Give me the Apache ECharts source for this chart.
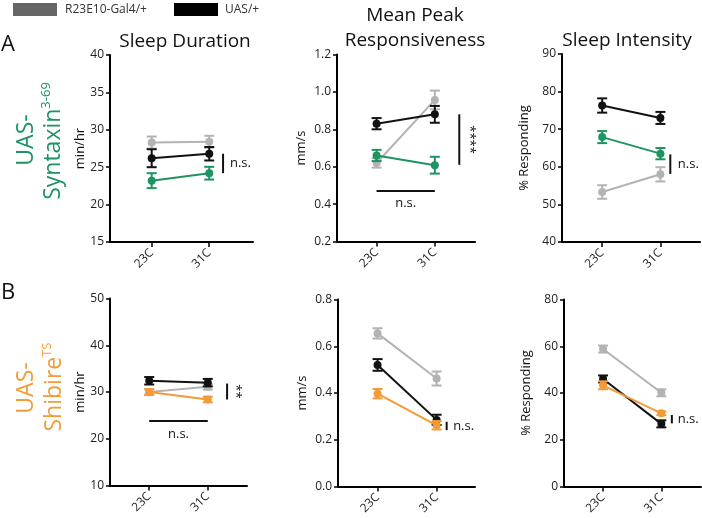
<!DOCTYPE html>
<html><head><meta charset="utf-8">
<script src="https://cdn.jsdelivr.net/npm/echarts@6/dist/echarts.min.js"></script>
<style>html,body{margin:0;padding:0;background:#fff}#c{width:702px;height:518px}</style>
</head><body><div id="c"></div>
<script>
// ---------- DATA ----------
const temps = ['23C', '31C'];
const legendNames = ['R23E10-Gal4/+', 'UAS/+'];
const panelTitles = ['Sleep Duration', 'Mean Peak\nResponsiveness', 'Sleep Intensity'];
const yNames = ['min/hr', 'mm/s', '% Responding', 'min/hr', 'mm/s', '% Responding'];

// Row A: UAS-Syntaxin3-69
const a1Gal4 = [28.3, 28.4], a1Gal4Err = [0.8, 0.8];
const a1UAS = [26.2, 26.8], a1UASErr = [1.2, 0.9];
const a1Exp = [23.2, 24.2], a1ExpErr = [1.0, 0.85];

const a2Gal4 = [0.62, 0.957], a2Gal4Err = [0.025, 0.05];
const a2UAS = [0.83, 0.88], a2UASErr = [0.03, 0.045];
const a2Exp = [0.66, 0.608], a2ExpErr = [0.03, 0.045];

const a3Gal4 = [53.3, 58.0], a3Gal4Err = [1.8, 1.9];
const a3UAS = [76.3, 73.0], a3UASErr = [1.9, 1.6];
const a3Exp = [67.9, 63.5], a3ExpErr = [1.6, 1.5];

// Row B: UAS-ShibireTS
const b1Gal4 = [30.0, 31.1], b1Gal4Err = [0.6, 0.6];
const b1UAS = [32.4, 32.0], b1UASErr = [0.8, 0.8];
const b1Exp = [30.0, 28.4], b1ExpErr = [0.6, 0.6];

const b2Gal4 = [0.655, 0.462], b2Gal4Err = [0.022, 0.03];
const b2UAS = [0.52, 0.285], b2UASErr = [0.025, 0.022];
const b2Exp = [0.397, 0.262], b2ExpErr = [0.02, 0.018];

const b3Gal4 = [58.8, 40.1], b3Gal4Err = [1.5, 1.5];
const b3UAS = [46.0, 26.8], b3UASErr = [1.5, 1.5];
const b3Exp = [43.3, 31.3], b3ExpErr = [1.7, 0.8];

// y axis ranges [min, max, interval]
const yRanges = [[15, 40, 5], [0.2, 1.2, 0.2], [40, 90, 10], [10, 50, 10], [0, 0.8, 0.2], [0, 80, 20]];

// significance annotations (data coordinates): [grid, x1, y1, x2, y2, text, tx, ty, textMode]
const annotations = [
  [0, 1.24, 26.8, 1.24, 24.2, 'n.s.', 1.36, 25.5, 'right'],
  [1, 1.42, 0.88, 1.42, 0.61, '****', 1.6, 0.745, 'rot'],
  [1, 0, 0.47, 1, 0.47, 'n.s.', 0.5, 0.405, 'center'],
  [2, 1.17, 63.3, 1.17, 58.1, 'n.s.', 1.3, 60.7, 'right'],
  [3, 1.33, 31.8, 1.33, 28.4, '**', 1.47, 30.1, 'rot'],
  [3, 0, 23.8, 1, 23.8, 'n.s.', 0.5, 21.0, 'center'],
  [4, 1.17, 0.277, 1.17, 0.241, 'n.s.', 1.28, 0.259, 'right'],
  [5, 1.18, 30.6, 1.18, 27.0, 'n.s.', 1.28, 28.8, 'right']
];

// ---------- STYLE / LAYOUT ----------
const GRAY = '#b3b3b3', BLACK = '#111111', GREEN = '#1d9461', ORANGE = '#f29b38';
const FONT = 'Open Sans';
const grids = [
  {left: 110, top: 55, width: 143, height: 187, xmin: -0.724, xmax: 1.76, gap: 17},
  {left: 337, top: 54.5, width: 138, height: 187, xmin: -0.68, xmax: 1.69, gap: 29},
  {left: 562, top: 54, width: 138, height: 188, xmin: -0.69, xmax: 1.68, gap: 31},
  {left: 110, top: 298.5, width: 137, height: 187, xmin: -0.67, xmax: 1.67, gap: 17},
  {left: 338, top: 299.5, width: 137, height: 187, xmin: -0.67, xmax: 1.65, gap: 29},
  {left: 564, top: 299.5, width: 137, height: 187, xmin: -0.67, xmax: 1.68, gap: 31}
];
const panelData = [
  [a1Gal4, a1Gal4Err, a1UAS, a1UASErr, a1Exp, a1ExpErr, GREEN],
  [a2Gal4, a2Gal4Err, a2UAS, a2UASErr, a2Exp, a2ExpErr, GREEN],
  [a3Gal4, a3Gal4Err, a3UAS, a3UASErr, a3Exp, a3ExpErr, GREEN],
  [b1Gal4, b1Gal4Err, b1UAS, b1UASErr, b1Exp, b1ExpErr, ORANGE],
  [b2Gal4, b2Gal4Err, b2UAS, b2UASErr, b2Exp, b2ExpErr, ORANGE],
  [b3Gal4, b3Gal4Err, b3UAS, b3UASErr, b3Exp, b3ExpErr, ORANGE]
];

function errRender(params, api) {
  const x = api.value(0), y = api.value(1), e = api.value(2);
  const t = api.coord([x, y + e]), b = api.coord([x, y - e]);
  const style = {stroke: api.visual('color'), lineWidth: 2};
  const hw = 5;
  return {type: 'group', children: [
    {type: 'line', shape: {x1: t[0], y1: t[1], x2: b[0], y2: b[1]}, style},
    {type: 'line', shape: {x1: t[0] - hw, y1: t[1], x2: t[0] + hw, y2: t[1]}, style},
    {type: 'line', shape: {x1: b[0] - hw, y1: b[1], x2: b[0] + hw, y2: b[1]}, style}
  ]};
}

const chart = echarts.init(document.getElementById('c'), null, {renderer: 'canvas'});
const option = {
  animation: false,
  backgroundColor: '#fff',
  grid: [], xAxis: [], yAxis: [], series: []
};
grids.forEach((g, i) => {
  option.grid.push({left: g.left, top: g.top, width: g.width, height: g.height, containLabel: false});
  option.xAxis.push({
    type: 'value', gridIndex: i, min: g.xmin, max: g.xmax,
    splitLine: {show: false},
    axisLine: {show: true, lineStyle: {color: '#000', width: 2}},
    axisTick: {show: true, customValues: [0, 1], length: 5, lineStyle: {color: '#000', width: 1.5}},
    axisLabel: {show: true, customValues: [0, 1], rotate: 45, margin: 9, fontFamily: FONT, fontSize: 12, color: '#222',
      formatter: v => temps[Math.round(v)] || ''}
  });
  const r = yRanges[i];
  const dec = r[2] < 1 ? 1 : 0;
  option.yAxis.push({
    type: 'value', gridIndex: i, min: r[0], max: r[1], interval: r[2],
    name: yNames[i], nameLocation: 'middle', nameRotate: 90, nameGap: g.gap,
    nameTextStyle: {fontFamily: FONT, fontSize: 13, color: '#111'},
    splitLine: {show: false},
    axisLine: {show: true, onZero: false, lineStyle: {color: '#000', width: 2}},
    axisTick: {show: true, length: 4, lineStyle: {color: '#000', width: 1.5}},
    axisLabel: {margin: 6, fontFamily: FONT, fontSize: 12, color: '#222', formatter: v => v.toFixed(dec)}
  });
  const d = panelData[i];
  const groups = [[d[0], d[1], GRAY, 2], [d[2], d[3], BLACK, 3], [d[4], d[5], d[6], 4]];
  groups.forEach(([vals, errs, col, z]) => {
    option.series.push({
      type: 'custom', xAxisIndex: i, yAxisIndex: i, z: z, renderItem: errRender,
      itemStyle: {color: col},
      data: vals.map((v, k) => [k, v, errs[k]])
    });
    option.series.push({
      type: 'line', xAxisIndex: i, yAxisIndex: i, z: z,
      data: vals.map((v, k) => [k, v]),
      symbol: 'circle', symbolSize: 8,
      lineStyle: {color: col, width: 2}, itemStyle: {color: col}
    });
  });
});
chart.setOption(option);

// ---------- static graphics + annotations ----------
const graphics = [];
// legend
graphics.push({type: 'rect', shape: {x: 13, y: 3, width: 44, height: 13}, style: {fill: '#666'}});
graphics.push({type: 'text', x: 65, y: 9.5, style: {text: legendNames[0], font: `12px "${FONT}"`, fill: '#333', textVerticalAlign: 'middle'}});
graphics.push({type: 'rect', shape: {x: 174, y: 3, width: 44, height: 13}, style: {fill: '#000'}});
graphics.push({type: 'text', x: 225, y: 9.5, style: {text: legendNames[1], font: `12px "${FONT}"`, fill: '#333', textVerticalAlign: 'middle'}});
// panel letters
graphics.push({type: 'text', x: 1, y: 45, style: {text: 'A', font: `22px "${FONT}"`, fill: '#111', textVerticalAlign: 'middle'}});
graphics.push({type: 'text', x: 1, y: 293, style: {text: 'B', font: `22px "${FONT}"`, fill: '#111', textVerticalAlign: 'middle'}});
// titles
graphics.push({type: 'text', x: 185, y: 42, style: {text: panelTitles[0], font: `19px "${FONT}"`, fill: '#111', textAlign: 'center', textVerticalAlign: 'middle'}});
graphics.push({type: 'text', x: 415, y: 28, style: {text: panelTitles[1], font: `19px "${FONT}"`, lineHeight: 25, fill: '#111', textAlign: 'center', textVerticalAlign: 'middle'}});
graphics.push({type: 'text', x: 627, y: 41, style: {text: panelTitles[2], font: `19px "${FONT}"`, fill: '#111', textAlign: 'center', textVerticalAlign: 'middle'}});
// row labels
function rowLabel(x1, y1, x2, y2, main, sup, col) {
  graphics.push({type: 'text', x: x1, y: y1, rotation: Math.PI / 2,
    style: {text: 'UAS-', font: `23px "${FONT}"`, fill: col, textAlign: 'center', textVerticalAlign: 'middle'}});
  graphics.push({type: 'text', x: x2, y: y2, rotation: Math.PI / 2,
    style: {text: `{m|${main}}{s|${sup}}`, textAlign: 'center', textVerticalAlign: 'middle',
      rich: {m: {fontFamily: FONT, fontSize: 23, fill: col, lineHeight: 26, verticalAlign: 'middle'},
             s: {fontFamily: FONT, fontSize: 13, fill: col, lineHeight: 26, verticalAlign: 'top'}}}});
}
rowLabel(26, 140, 53, 141, 'Syntaxin', '3-69', GREEN);
rowLabel(26, 388, 54, 387, 'Shibire', 'TS', ORANGE);

annotations.forEach(([gi, x1, y1, x2, y2, txt, tx, ty, mode]) => {
  const p1 = chart.convertToPixel({gridIndex: gi}, [x1, y1]);
  const p2 = chart.convertToPixel({gridIndex: gi}, [x2, y2]);
  const pt = chart.convertToPixel({gridIndex: gi}, [tx, ty]);
  graphics.push({type: 'line', shape: {x1: p1[0], y1: p1[1], x2: p2[0], y2: p2[1]}, style: {stroke: '#111', lineWidth: 2}});
  if (mode === 'rot') {
    graphics.push({type: 'text', x: pt[0], y: pt[1], rotation: -Math.PI / 2,
      style: {text: txt, font: `13px "${FONT}"`, fill: '#111', textAlign: 'center', textVerticalAlign: 'middle'}});
  } else {
    graphics.push({type: 'text', x: pt[0], y: pt[1],
      style: {text: txt, font: `13px "${FONT}"`, fill: '#111', textAlign: mode === 'center' ? 'center' : 'left', textVerticalAlign: 'middle'}});
  }
});
chart.setOption({graphic: graphics});
</script></body></html>
